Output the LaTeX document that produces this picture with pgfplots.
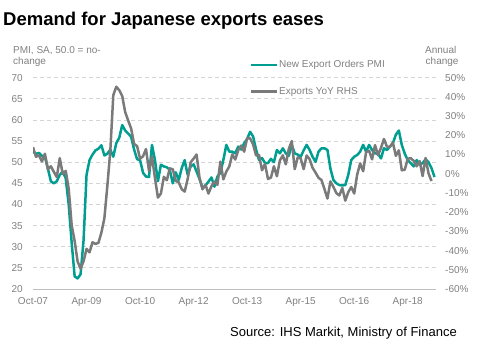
\documentclass[border=0pt]{standalone}
\usepackage{fontspec}
\setmainfont{Liberation Sans}
\usepackage{pgfplots}
\usepackage{pgfplotstable}
\pgfplotsset{compat=1.18}
\definecolor{tealc}{HTML}{009E91}
\definecolor{gline}{HTML}{7A7A7A}
\definecolor{txt}{HTML}{808080}
\definecolor{gridc}{HTML}{D4D4D4}
\definecolor{axc}{HTML}{BFBFBF}

\pgfplotstableread{
m v
0 52.5
1 52.0
2 52.2
3 51.5
4 51.3
5 48.5
6 45.5
7 45.0
8 45.5
9 47.0
10 47.8
11 46.2
12 40.0
13 31.0
14 23.0
15 22.5
16 23.5
17 31.5
18 47.0
19 50.5
20 51.8
21 52.8
22 53.2
23 54.0
24 51.6
25 52.0
26 53.0
27 51.3
28 54.5
29 55.8
30 58.8
31 57.5
32 56.8
33 56.0
34 53.0
35 50.7
36 50.5
37 47.5
38 46.6
39 46.5
40 54.1
41 50.5
42 45.5
43 49.4
44 49.0
45 48.8
46 48.2
47 45.0
48 47.6
49 45.8
50 48.6
51 50.5
52 47.0
53 49.0
54 49.5
55 47.8
56 46.0
57 43.9
58 44.5
59 45.4
60 46.4
61 44.2
62 46.6
63 47.5
64 50.5
65 54.1
66 52.5
67 52.5
68 52.1
69 53.7
70 53.0
71 54.5
72 55.5
73 57.2
74 56.1
75 53.0
76 50.5
77 51.0
78 49.8
79 49.8
80 50.8
81 50.0
82 52.9
83 52.1
84 53.3
85 52.1
86 51.5
87 54.1
88 52.1
89 51.8
90 51.3
91 52.8
92 54.1
93 52.9
94 51.3
95 50.1
96 52.5
97 53.3
98 53.3
99 52.9
100 48.5
101 45.8
102 45.0
103 44.6
104 44.5
105 44.6
106 47.0
107 50.5
108 51.3
109 51.7
110 52.5
111 54.1
112 52.5
113 54.1
114 52.9
115 52.1
116 52.0
117 50.9
118 53.3
119 52.9
120 53.7
121 54.5
122 56.5
123 57.5
124 54.1
125 52.0
126 50.5
127 49.8
128 49.0
129 50.5
130 49.4
131 49.8
132 50.7
133 50.0
134 48.6
135 46.5
}\pmi

\pgfplotstableread{
m v
0 13.8
1 8.8
2 9.6
3 6.4
4 10.4
5 2.3
6 3.9
7 1.0
8 -1.7
9 8.1
10 -0.1
11 1.5
12 -7.7
13 -26.7
14 -35.0
15 -45.7
16 -49.4
17 -45.6
18 -39.1
19 -40.9
20 -35.7
21 -36.5
22 -36.0
23 -30.6
24 -23.2
25 -6.3
26 12.1
27 40.9
28 45.3
29 43.5
30 40.4
31 32.1
32 27.7
33 23.5
34 15.5
35 14.4
36 7.8
37 9.1
38 12.9
39 1.4
40 9.0
41 -2.2
42 -12.4
43 -10.3
44 -1.6
45 -3.4
46 2.8
47 2.3
48 -3.7
49 -4.5
50 -8.0
51 -9.3
52 -2.7
53 5.9
54 7.9
55 10.0
56 -2.3
57 -8.1
58 -5.8
59 -10.3
60 -6.5
61 -4.1
62 -5.8
63 6.3
64 -2.9
65 1.1
66 3.8
67 10.1
68 7.4
69 12.2
70 14.7
71 11.5
72 18.6
73 18.4
74 15.3
75 9.5
76 9.8
77 1.8
78 5.1
79 -2.7
80 -2.0
81 3.9
82 -1.3
83 6.9
84 9.6
85 4.9
86 12.9
87 17.0
88 2.4
89 8.5
90 8.0
91 2.4
92 9.5
93 7.6
94 3.1
95 0.6
96 -2.1
97 -3.3
98 -8.0
99 -12.9
100 -4.0
101 -6.8
102 -10.1
103 -11.3
104 -7.4
105 -14.0
106 -9.6
107 -6.9
108 -10.3
109 -0.4
110 5.4
111 1.3
112 11.3
113 12.0
114 7.5
115 14.9
116 9.7
117 13.4
118 18.1
119 14.1
120 14.0
121 16.2
122 9.3
123 12.2
124 1.8
125 2.1
126 7.8
127 8.1
128 6.7
129 3.9
130 6.6
131 -1.2
132 8.2
133 0.1
134 -3.8
}\exports

\begin{document}
\begin{tikzpicture}[x=1pt,y=1pt]
\path[use as bounding box] (0,0) rectangle (478,-352);
\node[anchor=base west, font=\fontsize{18.5}{21}\selectfont\bfseries, inner sep=0] at (3,-25.5) {Demand for Japanese exports eases};
\node[anchor=base west, font=\fontsize{10}{12}\selectfont, text=txt, inner sep=0] at (13,-53.3) {PMI, SA, 50.0 = no-};
\node[anchor=base west, font=\fontsize{10}{12}\selectfont, text=txt, inner sep=0] at (13,-64.8) {change};
\node[anchor=base west, font=\fontsize{10}{12}\selectfont, text=txt, inner sep=0] at (425,-53.3) {Annual};
\node[anchor=base west, font=\fontsize{10}{12}\selectfont, text=txt, inner sep=0] at (425.5,-64.8) {change};
\node[anchor=base east, font=\fontsize{13}{15}\selectfont, inner sep=0] at (457,-336.5) {Source: IHS Markit, Ministry of Finance};

\begin{axis}[
  at={(33pt,-289pt)}, anchor=south west,
  scale only axis, width=403pt, height=211.3pt,
  xmin=0, xmax=135.5, ymin=20, ymax=70,
  axis x line*=bottom, axis y line*=left,
  axis line style={-},
  x axis line style={draw=axc, line width=0.8pt},
  y axis line style={draw=none},
  major tick length=0pt,
  xtick={0,18,36,54,72,90,108,126},
  xticklabels={Oct-07,Apr-09,Oct-10,Apr-12,Oct-13,Apr-15,Oct-16,Apr-18},
  ytick={20,25,...,70},
  ymajorgrids,
  grid style={draw=gridc, line width=0.8pt, dash pattern=on 4pt off 3pt},
  tick label style={font=\fontsize{10}{12}\selectfont, text=txt},
  /pgf/number format/assume math mode=true,
  yticklabel style={anchor=east, inner sep=0pt, xshift=-10pt},
  xticklabel style={anchor=north, inner sep=0pt, yshift=-8pt},
  legend style={at={(0.5385,1.06)}, anchor=west, draw=none, fill=none,
    inner sep=0pt, font=\fontsize{10}{12}\selectfont, text=txt,
    nodes={inner sep=0.5pt}},
  legend image code/.code={\draw[#1] (0pt,0pt) -- (26pt,0pt);},
]
\addplot[tealc, line width=2.5pt, line join=round] table[x=m, y=v] {\pmi};
\addlegendentry{New Export Orders PMI}
\end{axis}

\begin{axis}[
  at={(33pt,-289pt)}, anchor=south west,
  scale only axis, width=403pt, height=211.3pt,
  xmin=0, xmax=135.5, ymin=-60, ymax=50,
  axis x line=none, axis y line*=right,
  axis line style={-},
  y axis line style={draw=none},
  major tick length=0pt,
  ytick={-60,-50,...,50},
  yticklabel={\pgfmathprintnumber{\tick}\%},
  tick label style={font=\fontsize{10}{12}\selectfont, text=txt},
  /pgf/number format/assume math mode=true,
  yticklabel style={anchor=west, inner sep=0pt, xshift=9pt},
  legend style={at={(0.5385,0.934)}, anchor=west, draw=none, fill=none,
    inner sep=0pt, font=\fontsize{10}{12}\selectfont, text=txt,
    nodes={inner sep=0.5pt}},
  legend image code/.code={\draw[#1] (0pt,0pt) -- (26pt,0pt);},
]
\addplot[gline, line width=2.5pt, line join=round] table[x=m, y=v] {\exports};
\addlegendentry{Exports YoY RHS}
\end{axis}
\end{tikzpicture}
\end{document}
